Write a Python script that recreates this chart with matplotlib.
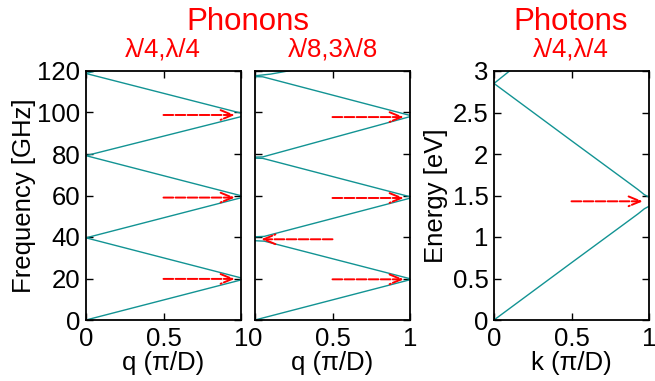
import matplotlib
matplotlib.use("Agg")
import matplotlib.pyplot as plt

plt.rcParams['font.family'] = ['Liberation Sans', 'DejaVu Sans']

TEAL = '#129393'
RED = '#ff0000'

# ---- data ----
# Phonons lambda/4, lambda/4 : bands as (q, f[GHz])
p1_q = [[0, 1], [1, 0], [0, 1], [1, 0], [0, 1], [1, 0], [0, 0.08]]
p1_f = [[0, 19.3], [20.3, 39.6], [39.6, 58.9], [59.9, 79.2],
        [79.2, 98.0], [99.7, 118.8], [118.8, 120.4]]
p1_arrow_f = [19.8, 59.0, 98.8]

# Phonons lambda/8, 3lambda/8
p2_q = [[0, 1], [1, 0.06, 0], [0, 0.06, 1], [1, 0.05, 0], [0, 0.05, 1],
        [1, 0.05, 0], [0, 0.1, 0.25]]
p2_f = [[0, 19.4], [19.9, 38.0, 38.2], [40.1, 40.3, 58.7], [59.4, 77.9, 78.0],
        [78.5, 78.6, 98.0], [98.6, 117.2, 117.3], [117.7, 118.5, 120.5]]
p2_arrow_right_f = [19.6, 58.8, 97.8]
p2_arrow_left_f = [38.9]

# Photons lambda/4, lambda/4 : bands as (k, E[eV])
p3_k = [[0, 0.5, 0.85, 0.93, 0.97, 1.0],
        [0, 0.5, 0.85, 0.93, 0.97, 1.0],
        [0, 0.1]]
p3_E = [[0, 0.69, 1.17, 1.28, 1.34, 1.37],
        [2.85, 2.16, 1.68, 1.57, 1.51, 1.48],
        [2.85, 3.0]]
p3_arrow_E = [1.43]

fig = plt.figure(figsize=(6.55, 3.81), dpi=100)
W, H = 655, 381

def ax_at(x0, x1, y0=71, y1=320):
    return fig.add_axes([x0 / W, 1 - y1 / H, (x1 - x0) / W, (y1 - y0) / H])

ax1 = ax_at(86, 241)
ax2 = ax_at(255, 410)
ax3 = ax_at(494, 649)

FS = 18.5

def style(ax):
    for s in ax.spines.values():
        s.set_linewidth(1.3)
    ax.tick_params(direction='in', length=5, width=1.0, top=True, right=True,
                   labelsize=FS)
    ax.tick_params(axis='x', pad=5)
    ax.tick_params(axis='y', pad=4)

def arrow(ax, y, x0, x1):
    ax.annotate('', xy=(x1, y), xytext=(x0, y),
                arrowprops=dict(arrowstyle='->,head_length=0.6,head_width=0.25',
                                color=RED, lw=1.4,
                                linestyle=(0, (5, 1.2)),
                                shrinkA=0, shrinkB=0, mutation_scale=14))

for qs, fs in zip(p1_q, p1_f):
    ax1.plot(qs, fs, color=TEAL, lw=1.0, clip_on=True)
for f in p1_arrow_f:
    arrow(ax1, f, 0.5, 0.96)
ax1.set_xlim(0, 1)
ax1.set_ylim(0, 120)
ax1.set_xticks([0, 0.5, 1])
ax1.set_xticklabels(['0', '0.5', '1'])
ax1.set_yticks(range(0, 121, 20))
ax1.set_ylabel('Frequency [GHz]', fontsize=FS, labelpad=1)
ax1.set_xlabel('q (π/D)', fontsize=FS, labelpad=0)
style(ax1)

for qs, fs in zip(p2_q, p2_f):
    ax2.plot(qs, fs, color=TEAL, lw=1.0)
for f in p2_arrow_right_f:
    arrow(ax2, f, 0.5, 0.96)
for f in p2_arrow_left_f:
    arrow(ax2, f, 0.5, 0.04)
ax2.set_xlim(0, 1)
ax2.set_ylim(0, 120)
ax2.set_xticks([0, 0.5, 1])
ax2.set_xticklabels(['0', '0.5', '1'])
ax2.set_yticks(range(0, 121, 20))
ax2.set_yticklabels([])
ax2.set_xlabel('q (π/D)', fontsize=FS, labelpad=0)
style(ax2)

for ks, es in zip(p3_k, p3_E):
    ax3.plot(ks, es, color=TEAL, lw=1.0)
for e in p3_arrow_E:
    arrow(ax3, e, 0.5, 0.96)
ax3.set_xlim(0, 1)
ax3.set_ylim(0, 3)
ax3.set_xticks([0, 0.5, 1])
ax3.set_xticklabels(['0', '0.5', '1'])
ax3.set_yticks([0, 0.5, 1, 1.5, 2, 2.5, 3])
ax3.set_yticklabels(['0', '0.5', '1', '1.5', '2', '2.5', '3'])
ax3.set_ylabel('Energy [eV]', fontsize=FS, labelpad=3)
ax3.set_xlabel('k (π/D)', fontsize=FS, labelpad=0)
style(ax3)

fig.text(248 / W, 1 - 22 / H, 'Phonons', color=RED, fontsize=22.5,
         ha='center', va='center')
fig.text(163 / W, 1 - 50 / H, 'λ/4,λ/4', color=RED, fontsize=18.5,
         ha='center', va='center')
fig.text(333 / W, 1 - 50 / H, 'λ/8,3λ/8', color=RED, fontsize=18.5,
         ha='center', va='center')
fig.text(571 / W, 1 - 22 / H, 'Photons', color=RED, fontsize=22.5,
         ha='center', va='center')
fig.text(571 / W, 1 - 49 / H, 'λ/4,λ/4', color=RED, fontsize=18.5,
         ha='center', va='center')

fig.savefig('out.png', dpi=100)
